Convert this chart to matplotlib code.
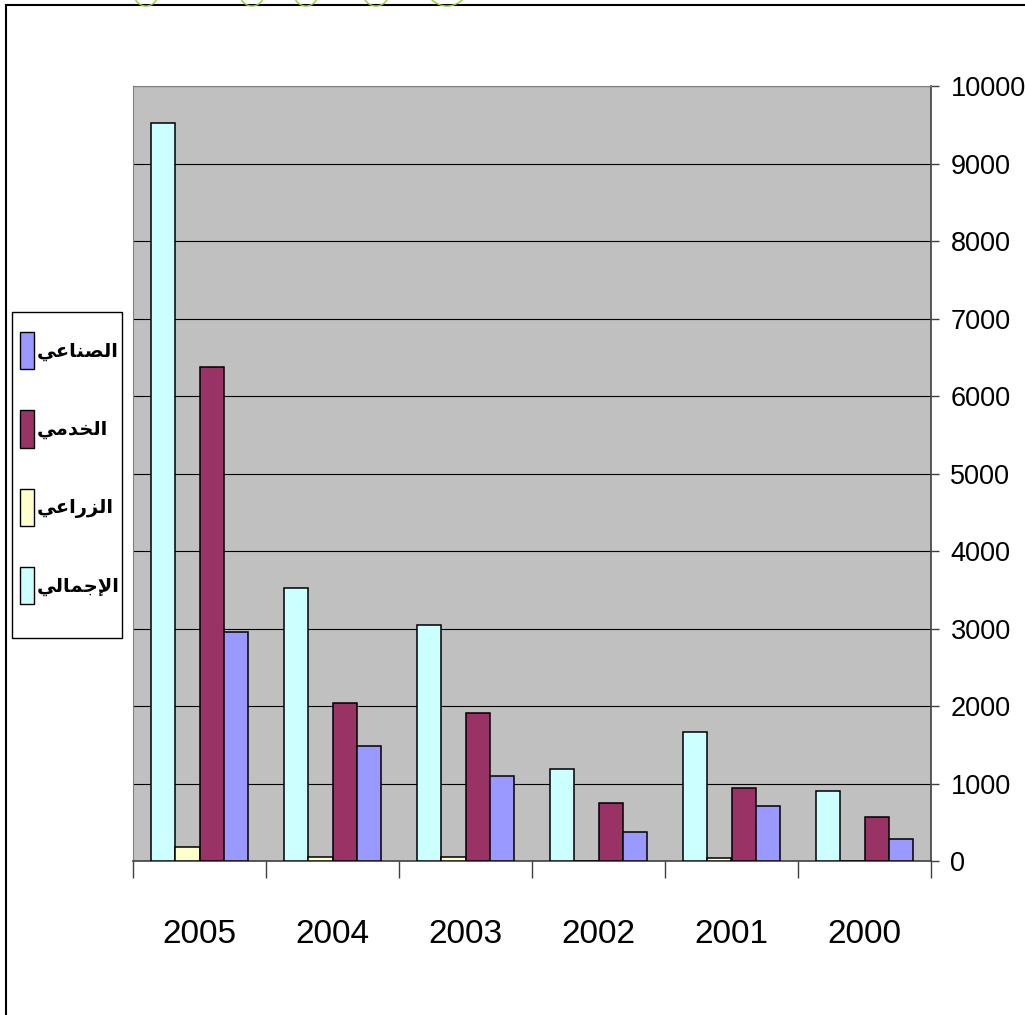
import numpy as np
import matplotlib
matplotlib.use('Agg')
import matplotlib.pyplot as plt
from matplotlib.patches import Patch, Rectangle, Ellipse

# data
years = ['2005', '2004', '2003', '2002', '2001', '2000']
total = [9520, 3520, 3045, 1185, 1660, 905]        # الإجمالي
agri = [180, 50, 50, 0, 45, 0]                      # الزراعي
services = [6370, 2040, 1910, 750, 940, 565]        # الخدمي
industry = [2955, 1485, 1095, 370, 710, 285]        # الصناعي

names = ['الإجمالي', 'الزراعي', 'الخدمي', 'الصناعي']
colors = ['#CCFFFF', '#FFFFCC', '#993366', '#9999FF']
series = [total, agri, services, industry]

# very small arabic shaper (matplotlib has no complex text layout)
FORMS = {
    'ا': ('\uFE8D', '\uFE8E', None, None),
    'إ': ('\uFE87', '\uFE88', None, None),
    'ل': ('\uFEDD', '\uFEDE', '\uFEDF', '\uFEE0'),
    'ص': ('\uFEB9', '\uFEBA', '\uFEBB', '\uFEBC'),
    'ن': ('\uFEE5', '\uFEE6', '\uFEE7', '\uFEE8'),
    'ع': ('\uFEC9', '\uFECA', '\uFECB', '\uFECC'),
    'ي': ('\uFEF1', '\uFEF2', '\uFEF3', '\uFEF4'),
    'خ': ('\uFEA5', '\uFEA6', '\uFEA7', '\uFEA8'),
    'د': ('\uFEA9', '\uFEAA', None, None),
    'م': ('\uFEE1', '\uFEE2', '\uFEE3', '\uFEE4'),
    'ز': ('\uFEAF', '\uFEB0', None, None),
    'ر': ('\uFEAD', '\uFEAE', None, None),
    'ج': ('\uFE9D', '\uFE9E', '\uFE9F', '\uFEA0'),
    'لا': ('\uFEFB', '\uFEFC', None, None),
    'لإ': ('\uFEF9', '\uFEFA', None, None),
}


def shape(word):
    chars = []
    i = 0
    while i < len(word):
        if word[i] == 'ل' and i + 1 < len(word) and word[i + 1] in 'اإ':
            chars.append(word[i:i + 2])
            i += 2
        else:
            chars.append(word[i])
            i += 1
    out = []
    for k, c in enumerate(chars):
        f = FORMS[c]
        prev = k > 0 and FORMS[chars[k - 1]][2] is not None
        nxt = k < len(chars) - 1 and f[2] is not None
        if prev and nxt:
            g = f[3]
        elif prev:
            g = f[1]
        elif nxt:
            g = f[2]
        else:
            g = f[0]
        out.append(g)
    return ''.join(reversed(out))


W, H = 1025, 1015
fig = plt.figure(figsize=(W / 100, H / 100), dpi=100)
ax = fig.add_axes([133 / W, 1 - 861 / H, (931 - 133) / W, (861 - 86) / H])
ax.set_facecolor('#C0C0C0')

x = np.arange(len(years))
w = 1 / 5.5
for k, (vals, col) in enumerate(zip(series, colors)):
    ax.bar(x + (k - 1.5) * w, vals, w, color=col, edgecolor='black',
           linewidth=1.1, zorder=3)

ax.set_xlim(-0.5, len(years) - 0.5)
ax.set_ylim(0, 10000)
ax.set_yticks(range(0, 10001, 1000))
ax.yaxis.tick_right()
ax.grid(axis='y', color='black', linewidth=0.8, zorder=1)

ax.set_xticks(np.arange(-0.5, len(years)), labels=[''] * (len(years) + 1))
ax.set_xticks(x, labels=years, minor=True)
ax.tick_params(axis='x', which='major', length=12, width=1, color='#404040')
ax.tick_params(axis='x', which='minor', length=0, pad=42)
ax.tick_params(axis='y', length=6, width=1, color='#404040', pad=8)
for lab in ax.get_xticklabels(minor=True):
    lab.set_fontfamily('Liberation Sans')
    lab.set_fontsize(24)
for lab in ax.get_yticklabels():
    lab.set_fontfamily('Liberation Sans')
    lab.set_fontsize(19.5)

for side in ['top', 'left']:
    ax.spines[side].set_color('#808080')
for side in ['right', 'bottom']:
    ax.spines[side].set_color('#404040')
    ax.spines[side].set_linewidth(1.2)

# legend: entries top to bottom, own frame drawn separately
fs = 14
fpx = fs * 100 / 72
handles = [Patch(facecolor=colors[k], edgecolor='black', linewidth=1,
                 label=shape(names[k])) for k in [3, 2, 1, 0]]
leg = fig.legend(handles=handles, loc='upper left',
                 bbox_to_anchor=(20 / W, 1 - 332 / H),
                 prop={'family': ['DejaVu Sans'], 'weight': 'bold', 'size': fs},
                 frameon=False, borderpad=0, borderaxespad=0,
                 handlelength=14 / fpx, handleheight=50 / fpx,
                 handletextpad=0.12, labelspacing=41 / fpx)
fig.add_artist(Rectangle((12 / W, 1 - 638 / H), 110 / W, 326 / H,
                         transform=fig.transFigure, facecolor='white',
                         edgecolor='black', linewidth=1, zorder=0.5))
leg.set_zorder(5)

# outer frame of the slide and the green circles cut at its top edge
fig.add_artist(Rectangle((6 / W, -0.1), 1.2, 1.1 - 5 / H, transform=fig.transFigure,
                         fill=False, edgecolor='black', linewidth=1.5))
for cx, r in [(146, 12), (252, 12), (306, 12), (376, 13), (447, 22)]:
    fig.add_artist(Ellipse((cx / W, 1 + (r - 6) / H), 2 * r / W, 2 * r / H,
                           transform=fig.transFigure, fill=False,
                           edgecolor='#99CC33', linewidth=1))

fig.savefig('out.png', dpi=100)
